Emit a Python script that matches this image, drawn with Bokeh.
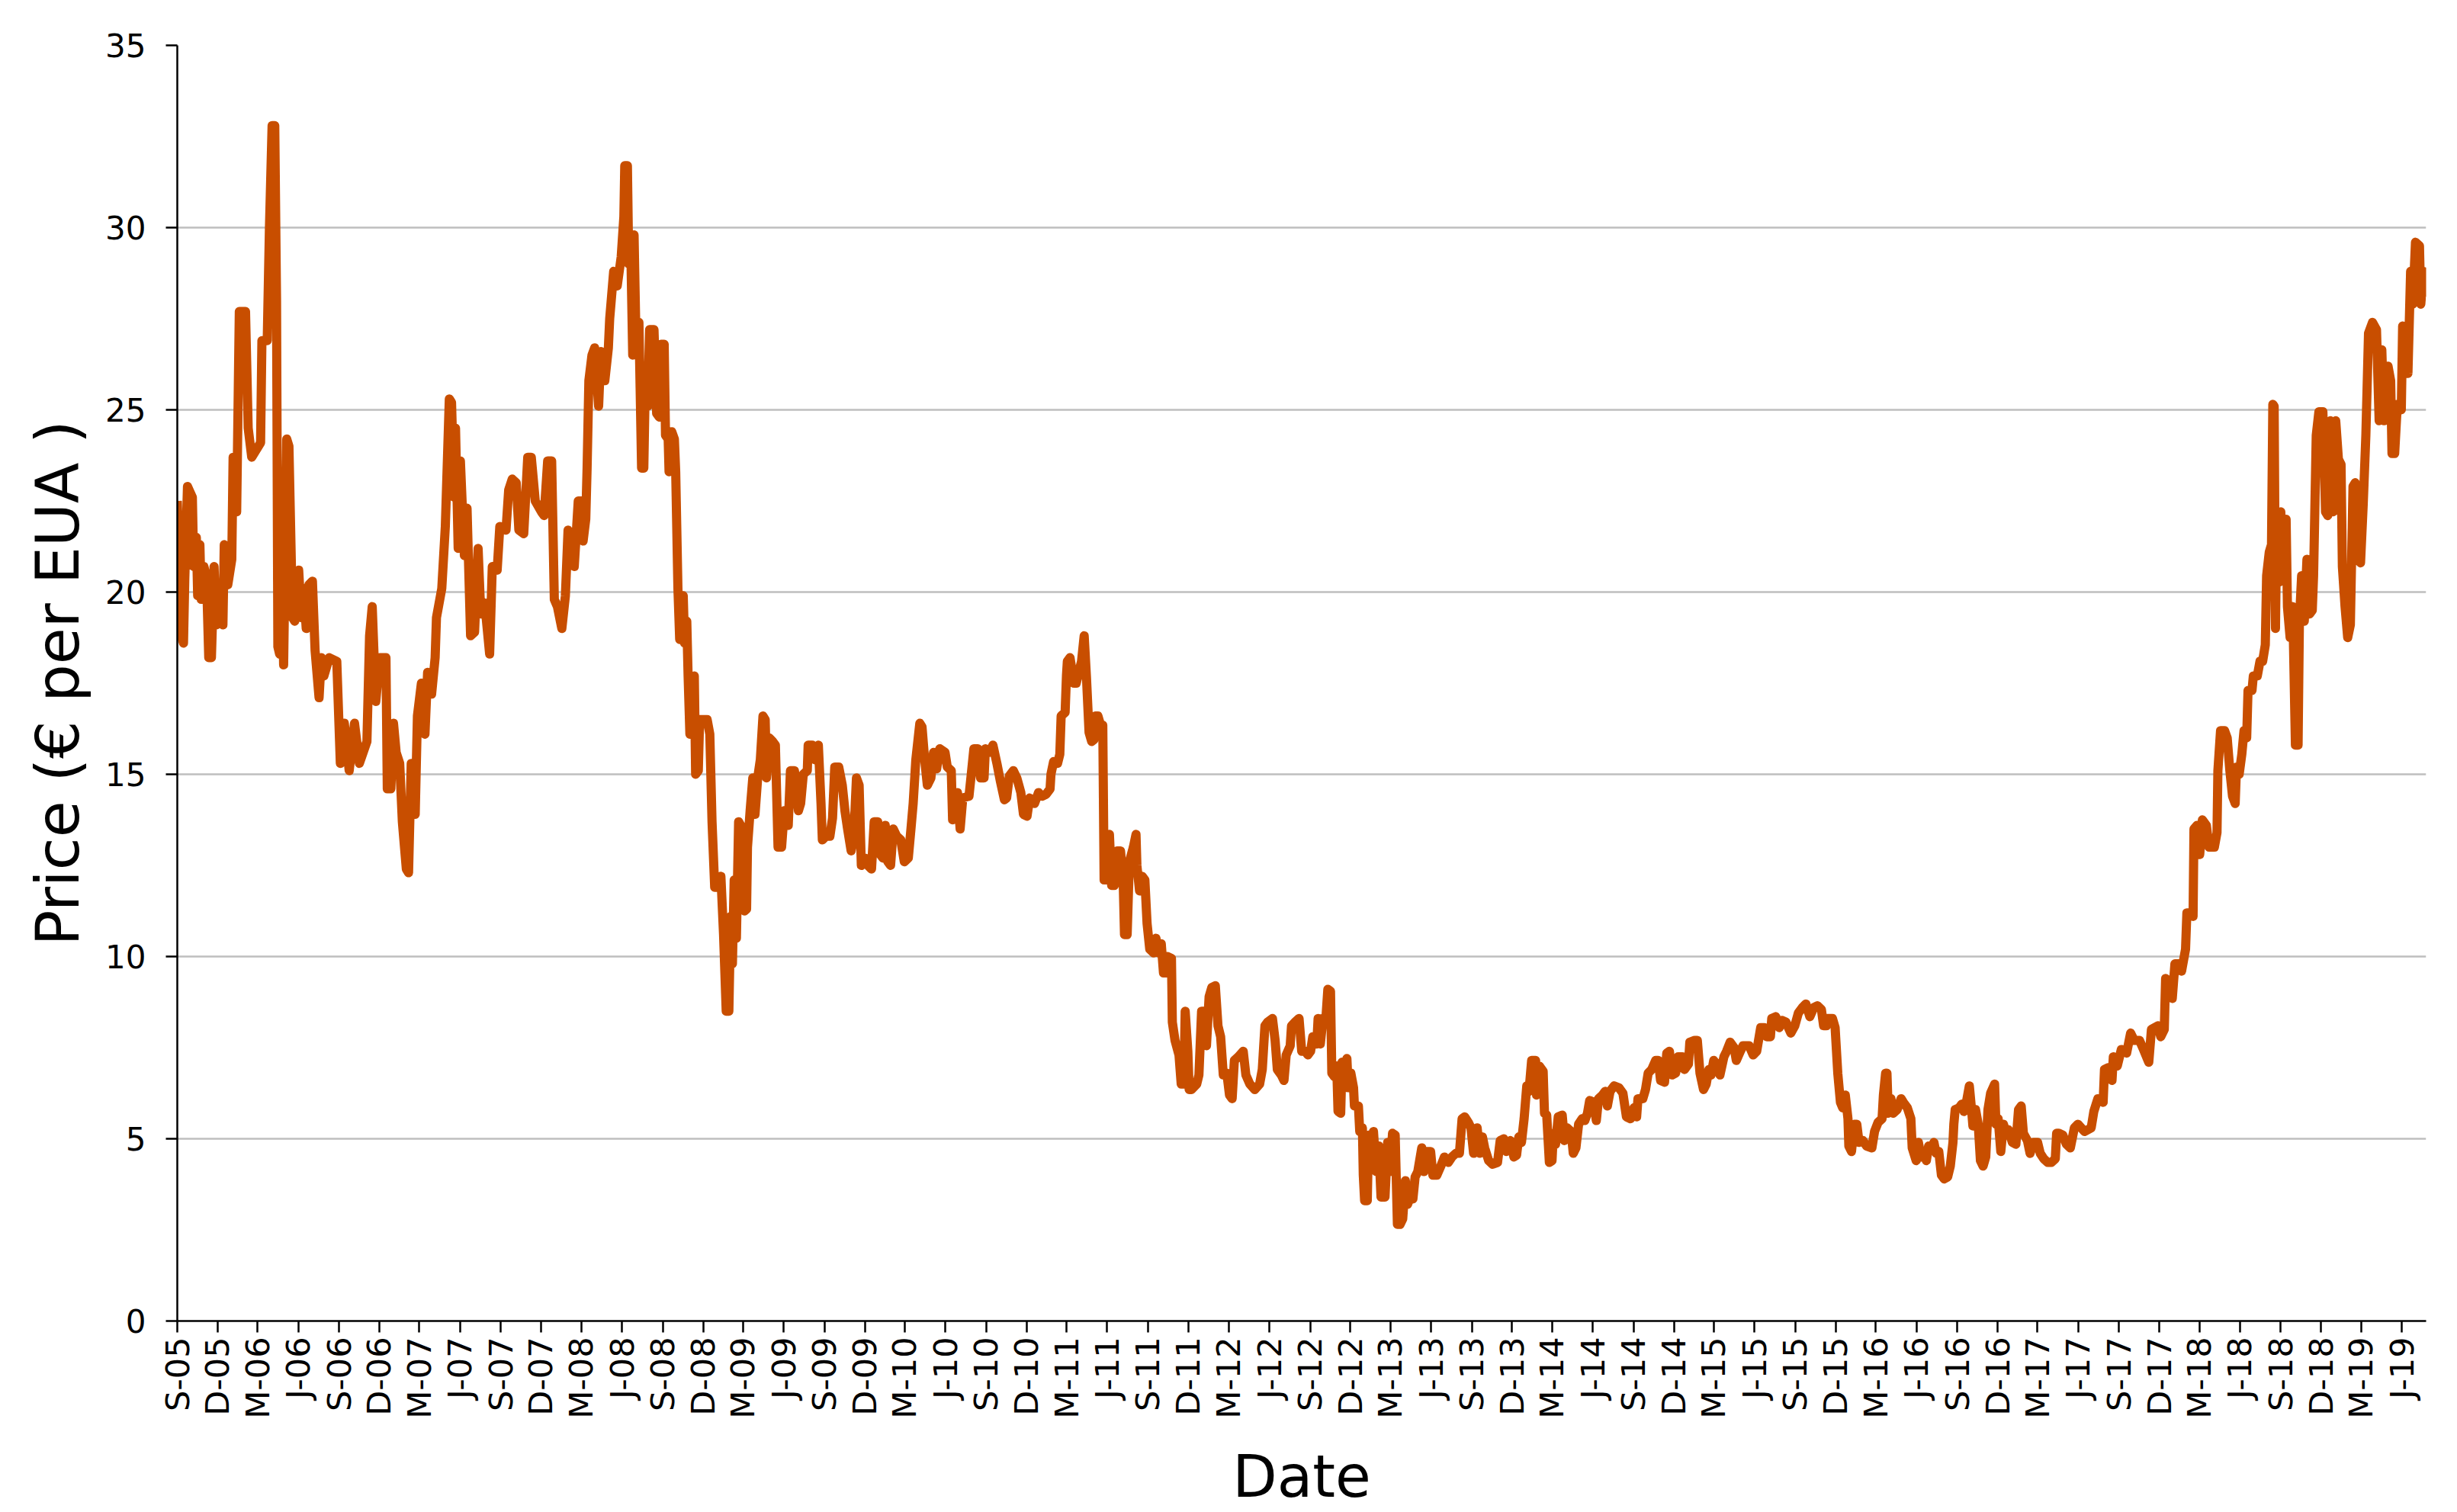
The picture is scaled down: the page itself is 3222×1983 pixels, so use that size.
import math
import pandas as pd
from bokeh.plotting import figure
from bokeh.models import Range1d, FixedTicker
from bokeh.embed import file_html
from bokeh.resources import INLINE

# ---------------- data ----------------
start_date = "2005-09-01"   # day 0 of the series

# days since start_date / price (EUR per EUA), one pair of lists per stretch
days_a = [0,9,14,17,23,34,37,43,46,51,
          54,60,66,71,77,83,88,94,103,106,
          114,123,126,134,140,154,160,168,188,191,
          203,208,214,220,224,227,231,234,240,247,
          252,260,265,274,280,285,291,297,305,311,
          320,325,331,343,360,368,377,388,400,411,
          428,434,440,448,457,471,474,482,488,494,
          502,508,517,522,528,537,542,551,559,565,
          574,582,585,597,605,614,619,625,628,634,
          639,648,654,662,671,679,685,694,705,711,
          722,728,742,748,756,765,771,782,791,799,
          808,822,828,836,845,851,858]
price_a = [22.5,18.8,18.6,20.4,22.9,22.6,20.7,21.5,19.9,21.3,
           19.8,20.7,20.4,18.2,18.2,20.7,19.1,19.9,19.1,21.3,
           20.2,20.9,23.7,22.2,27.7,27.7,24.5,23.7,24.1,26.9,
           26.9,30.0,32.8,32.8,28.0,18.5,18.3,22.4,18.0,24.2,
           24.0,19.3,19.2,20.6,19.3,20.1,19.0,20.2,20.3,18.4,
           17.1,18.2,17.7,18.2,18.1,15.3,16.4,15.1,16.4,15.3,
           15.9,18.8,19.6,17.0,18.2,18.2,14.6,14.6,16.4,15.6,
           15.3,13.7,12.4,12.3,15.3,13.9,16.6,17.5,16.1,17.8,
           17.2,18.2,19.3,20.1,21.8,25.3,25.2,22.6,24.5,21.2,
           23.6,21.0,22.3,18.8,18.9,21.2,19.4,19.7,18.3,20.7,
           20.6,21.8,21.7,22.8,23.1,23.0,21.7,21.6,23.7,23.7,
           22.5,22.2,22.1,23.6,23.6,19.8,19.6]

days_b = [868,876,882,891,896,905,913,916,922,925,
          929,936,942,951,956,965,973,976,985,993,
          1002,1008,1010,1016,1019,1023,1028,1031,1036,1042,
          1048,1053,1056,1062,1066,1076,1082,1088,1092,1099,
          1102,1108,1110,1116,1122,1125,1130,1134,1142,1145,
          1150,1153,1157,1163,1167,1170,1176,1179,1187,1196,
          1202,1207,1213,1222,1227,1233,1239,1245,1249,1253,
          1257,1262,1267,1276,1280,1285,1287,1293,1299,1304,
          1310,1316,1322,1327,1330,1336,1344,1350,1356,1364,
          1370,1379,1384,1393,1402,1407,1413,1422,1424,1433,
          1439,1447,1453,1456,1464,1473,1479,1484,1493,1501,
          1507,1513,1521,1527,1533,1539,1544,1553,1559,1567,
          1573,1581,1587,1593,1598,1604,1610,1616,1624,1633,
          1641,1650,1656,1661,1667,1676,1681,1687,1693,1701,
          1707]
price_b = [19.0,19.9,21.7,21.5,20.7,22.5,22.5,21.4,22.0,23.4,
           25.8,26.5,26.7,25.1,26.6,25.8,26.7,27.5,28.8,28.4,
           29.2,30.3,31.7,31.7,29.0,29.8,26.5,29.8,26.5,27.4,
           23.4,23.4,25.5,25.1,27.2,27.2,24.9,24.8,26.8,26.8,
           24.3,24.2,23.3,24.4,24.2,23.3,20.1,18.7,19.9,18.6,
           19.2,17.7,16.1,16.1,17.7,15.0,15.1,16.5,16.5,16.5,
           16.1,13.7,11.9,11.9,12.2,10.6,8.5,8.5,11.1,9.8,
           12.1,10.5,13.7,13.5,11.25,11.3,13.0,14.0,14.9,13.9,
           14.9,15.4,16.6,16.5,14.9,16.0,15.9,15.8,13.0,13.0,
           14.0,13.6,15.1,15.1,14.0,14.2,15.0,15.1,15.8,15.8,
           15.4,15.8,14.2,13.2,13.3,13.3,13.8,15.2,15.2,14.7,
           14.0,13.5,12.9,13.3,14.9,14.7,12.5,12.7,12.5,12.4,
           13.7,13.7,12.8,12.7,13.6,12.6,12.5,13.5,13.3,13.2,
           12.6,12.7,13.5,14.2,15.4,16.4,16.3,15.4,14.7,14.9,
           15.6]

days_c = [1714,1721,1733,1738,1747,1750,1758,1761,1767,1773,
          1787,1793,1798,1807,1813,1821,1824,1833,1841,1850,
          1858,1867,1872,1878,1887,1895,1904,1910,1918,1924,
          1935,1944,1952,1961,1970,1972,1978,1987,1992,1995,
          2004,2007,2009,2015,2024,2029,2035,2041,2047,2052,
          2058,2064,2069,2072,2078,2084,2089,2092,2101,2104,
          2109,2115,2121,2129,2135,2138,2144,2149,2158,2164,
          2166,2172,2178,2184,2189,2195,2204,2209,2215,2221,
          2226,2232,2235,2244,2246,2252,2261,2266,2272,2275,
          2281,2284,2289,2301,2306,2312,2318,2323,2329,2335,
          2343,2349,2355,2361,2369,2375,2381,2386,2395,2406,
          2412,2421,2432,2443,2449,2455,2461,2472,2478,2483,
          2492,2498,2503,2512,2515,2523,2532,2538,2546,2552,
          2558,2563]
price_c = [15.15,15.7,15.6,15.2,15.1,13.75,13.8,14.5,13.5,14.35,
           14.4,15.1,15.7,15.7,14.9,14.9,15.7,15.6,15.8,15.3,
           14.8,14.3,14.35,14.95,15.1,14.9,14.5,13.9,13.85,14.35,
           14.2,14.5,14.4,14.45,14.6,15.0,15.35,15.3,15.55,16.6,
           16.7,17.7,18.1,18.2,17.5,17.5,17.8,18.1,18.8,17.7,
           16.15,15.9,15.95,16.6,16.6,16.35,16.35,12.1,12.1,13.35,
           11.95,11.95,12.9,12.9,12.1,10.6,10.6,12.6,13.0,13.35,
           12.5,11.8,12.2,12.1,10.9,10.2,10.1,10.5,10.1,10.35,
           9.55,9.55,10.0,9.95,8.2,7.7,7.3,6.5,6.5,8.5,
           7.4,6.35,6.35,6.5,6.75,8.5,8.5,7.55,8.9,9.15,
           9.2,8.1,7.8,6.75,6.8,6.2,6.1,7.15,7.25,7.4,
           6.75,6.5,6.35,6.5,6.9,8.1,8.2,8.3,7.7,6.9,
           6.75,6.6,7.3,7.55,8.1,8.2,8.3,7.4,7.4,7.3,
           7.4,7.8]

days_d = [2572,2575,2580,2586,2592,2597,2603,2606,2612,2617,
          2620,2626,2629,2635,2640,2643,2649,2655,2657,2666,
          2669,2675,2677,2680,2686,2689,2695,2700,2706,2712,
          2717,2726,2732,2737,2743,2749,2754,2760,2766,2772,
          2777,2783,2789,2794,2800,2809,2814,2820,2829,2834,
          2843,2852,2860,2869,2877,2886,2894,2900,2906,2914,
          2920,2926,2934,2940,2946,2951,2960,2969,2980,2986,
          2994,3000,3009,3017,3023,3028,3034,3040,3046,3051,
          3057,3066,3068,3074,3083,3086,3091,3097,3103,3106,
          3111,3117,3126,3131,3137,3146,3151,3157,3163,3171,
          3177,3183,3188,3197,3203,3208,3217,3223,3228,3234,
          3243,3254,3263,3271,3280,3288,3294,3297,3308,3314,
          3320,3328,3337,3343,3348,3357,3362,3368,3374,3382,
          3388,3397,3402,3411,3414,3425]
price_d = [7.6,8.3,7.6,8.3,8.2,9.1,9.05,6.8,6.7,7.0,
           5.75,5.7,7.1,6.4,7.2,6.4,6.8,6.4,5.9,5.9,
           5.2,5.3,4.0,3.3,3.3,5.1,4.2,5.2,4.1,4.8,
           3.4,3.4,4.9,4.1,5.15,5.1,2.65,2.65,2.8,3.85,
           3.2,3.4,3.35,3.95,4.1,4.75,4.1,4.65,4.65,4.0,
           4.0,4.25,4.5,4.35,4.5,4.6,4.6,5.55,5.6,5.45,
           5.3,4.6,5.3,4.6,5.05,4.75,4.4,4.3,4.35,4.95,
           5.0,4.65,4.95,4.5,4.55,5.05,4.9,5.55,6.45,6.3,
           7.15,7.15,6.2,7.0,6.85,5.7,5.65,4.35,4.4,5.15,
           4.85,5.6,5.65,4.95,5.3,5.2,4.6,4.75,5.4,5.55,
           5.5,5.7,6.05,6.0,5.5,6.1,6.2,6.3,5.9,6.3,
           6.45,6.4,6.25,5.6,5.55,5.85,5.6,6.1,6.1,6.35,
           6.8,6.9,7.15,7.15,6.6,6.55,7.35,7.4,6.75,6.8,
           7.25,7.25,6.9,7.05,7.65,7.7]

days_e = [3431,3437,3445,3451,3457,3462,3468,3477,3482,3491,
          3497,3505,3514,3519,3528,3534,3548,3557,3565,3574,
          3582,3588,3596,3599,3608,3616,3622,3631,3642,3651,
          3659,3668,3676,3685,3694,3702,3711,3716,3722,3725,
          3736,3742,3748,3754,3759,3765,3771,3773,3779,3785,
          3791,3796,3805,3813,3825,3831,3839,3848,3851,3856,
          3859,3862,3868,3873,3882,3891,3896,3905,3913,3916,
          3925,3930,3936,3942,3948,3953,3959,3965,3970,3976,
          3982,3988,3996,4002,4008,4010,4013,4022,4028,4033,
          4039,4045,4050,4053,4059,4065,4070,4076,4082,4087,
          4093,4102,4105,4110,4116,4122,4127,4133,4142,4150,
          4156,4162,4167,4176,4182,4190,4199,4205,4213,4222,
          4230,4239,4242,4247,4256,4264,4273,4282]
price_e = [7.7,6.8,6.35,6.5,6.9,6.75,7.15,7.0,6.75,7.25,
           7.4,7.65,7.5,7.15,7.4,7.55,7.55,7.3,7.4,8.05,
           8.05,7.8,7.8,8.3,8.35,8.05,8.25,8.2,7.9,8.1,
           8.45,8.6,8.7,8.35,8.6,8.65,8.55,8.1,8.1,8.3,
           8.3,8.05,6.8,6.0,5.85,6.2,5.55,4.8,4.65,5.4,
           5.4,4.9,4.95,4.8,4.75,5.2,5.45,5.55,6.2,6.8,
           6.8,5.7,6.1,5.7,5.8,6.1,6.0,5.85,5.55,4.75,
           4.4,4.9,4.5,4.65,4.4,4.8,4.75,4.9,4.6,4.65,
           4.0,3.9,3.95,4.25,4.9,5.4,5.8,5.85,5.95,5.75,
           6.05,6.45,5.8,5.35,5.8,5.4,4.4,4.25,4.5,5.8,
           6.25,6.5,5.4,5.55,4.65,5.4,5.2,5.25,4.9,4.85,
           5.8,5.9,5.15,4.95,4.6,4.9,4.9,4.6,4.45,4.35,
           4.35,4.45,5.15,5.15,5.1,4.85,4.75,5.3]

days_f = [4290,4305,4320,4326,4335,4347,4350,4358,4367,4370,
          4379,4388,4400,4409,4417,4429,4438,4450,4456,4471,
          4477,4485,4488,4497,4503,4509,4518,4524,4533,4536,
          4544,4550,4552,4559,4565,4571,4580,4586,4598,4604,
          4606,4612,4621,4627,4633,4639,4645,4648,4654,4660,
          4665,4671,4674,4683,4686,4695,4701,4707,4713,4716,
          4722,4727,4730,4733,4736,4739,4742,4748,4754,4760,
          4763,4769,4775,4781,4787,4790,4795,4801,4807,4813,
          4819,4822,4828,4834,4843,4849,4854,4860,4866,4872,
          4878,4884,4887,4893,4899,4905,4911,4916,4922,4928,
          4934,4940,4946,4955,4964,4970,4976,4981,4990,4996,
          4999,5005,5011,5020,5023,5032,5035,5041,5046,5052,
          5061,5064,5070,5076]
price_f = [5.4,5.2,5.3,5.75,6.1,6.0,6.9,6.95,6.6,7.25,
           7.0,7.45,7.35,7.9,7.7,7.7,7.45,7.1,8.0,8.1,
           7.8,8.0,9.4,9.3,8.85,9.8,9.8,9.6,10.2,11.2,
           11.2,11.1,13.5,13.6,12.8,13.75,13.6,13.0,13.0,13.4,
           15.1,16.2,16.2,16.0,15.1,14.4,14.2,15.2,15.0,15.55,
           16.2,16.0,17.3,17.3,17.7,17.7,18.1,18.1,18.55,20.45,
           21.1,21.3,25.15,25.1,19.0,22.2,20.25,22.2,20.3,22.0,
           19.6,18.75,19.6,15.8,15.8,19.2,20.45,19.2,20.9,19.4,
           19.5,20.45,24.3,24.95,24.95,22.2,22.1,24.7,22.2,24.7,
           23.65,23.5,20.7,19.6,18.75,19.1,22.9,23.0,20.9,20.8,
           22.4,24.3,27.1,27.4,27.2,24.7,26.65,24.7,26.2,25.8,
           23.8,23.8,25.15,25.0,27.3,27.2,26.0,28.8,27.9,29.6,
           29.5,27.9,28.8,28.1]

tick_labels = ["S-05","D-05","M-06","J-06","S-06","D-06","M-07","J-07",
               "S-07","D-07","M-08","J-08","S-08","D-08","M-09","J-09",
               "S-09","D-09","M-10","J-10","S-10","D-10","M-11","J-11",
               "S-11","D-11","M-12","J-12","S-12","D-12","M-13","J-13",
               "S-13","D-13","M-14","J-14","S-14","D-14","M-15","J-15",
               "S-15","D-15","M-16","J-16","S-16","D-16","M-17","J-17",
               "S-17","D-17","M-18","J-18","S-18","D-18","M-19","J-19"]
y_ticks = [0, 5, 10, 15, 20, 25, 30, 35]

# ---------------- build ----------------
pairs = [(days_a, price_a), (days_b, price_b), (days_c, price_c),
         (days_d, price_d), (days_e, price_e), (days_f, price_f)]
days, price = [], []
for d, v in pairs:
    assert len(d) == len(v), (len(d), len(v), d[0])
    days += d
    price += v

t0 = pd.Timestamp(start_date)
tick_dates = pd.date_range(start_date, periods=len(tick_labels), freq="3MS")
tick_days = [int((t - t0).days) for t in tick_dates]

FONT = "DejaVu Sans"

p = figure(width=3222, height=1983, output_backend="svg", toolbar_location=None,
           x_range=Range1d(0, days[-1]), y_range=Range1d(0, 35),
           min_border_left=232, min_border_right=41, min_border_top=59,
           min_border_bottom=248)
p.outline_line_color = None
p.background_fill_color = "white"
p.border_fill_color = "white"

p.line(x=days, y=price, line_color="#C84E00", line_width=12, line_join="round")

p.xgrid.visible = False
p.ygrid.grid_line_color = "#BFBFBF"
p.ygrid.grid_line_width = 2.5

p.yaxis.ticker = FixedTicker(ticks=y_ticks)
p.xaxis.ticker = FixedTicker(ticks=tick_days)
p.xaxis.major_label_overrides = {d: lab for d, lab in zip(tick_days, tick_labels)}
p.xaxis.major_label_orientation = math.pi / 2

for ax in (p.xaxis, p.yaxis):
    ax.axis_line_color = "black"
    ax.axis_line_width = 2.5
    ax.major_tick_line_color = "black"
    ax.major_tick_line_width = 2.5
    ax.major_tick_in = 0
    ax.major_tick_out = 15
    ax.minor_tick_in = 0
    ax.minor_tick_out = 0
    ax.major_label_text_font = FONT
    ax.major_label_text_color = "black"
    ax.axis_label_text_font = FONT
    ax.axis_label_text_font_style = "normal"
    ax.axis_label_text_color = "black"

p.yaxis.major_label_text_font_size = "42px"
p.yaxis.major_label_standoff = 26
p.yaxis.axis_label = "Price (€ per EUA )"
p.yaxis.axis_label_text_font_size = "78px"
p.yaxis.axis_label_standoff = 14

p.xaxis.major_label_text_font_size = "43px"
p.xaxis.major_label_standoff = 6
p.xaxis.axis_label = "Date"
p.xaxis.axis_label_text_font_size = "76px"
p.xaxis.axis_label_standoff = 28

open("out.html", "w").write(file_html(p, INLINE))
